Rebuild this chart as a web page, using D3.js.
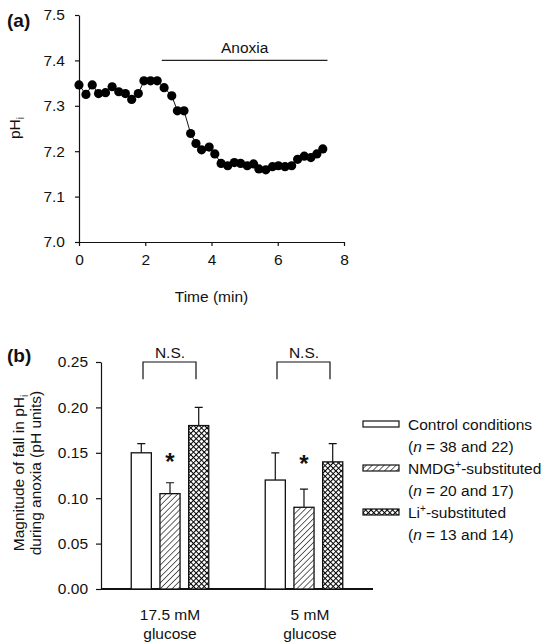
<!DOCTYPE html>
<html>
<head>
<meta charset="utf-8">
<script src="https://cdn.jsdelivr.net/npm/d3@7"></script>
<style>
  body { margin: 0; background: #fff; }
  svg { display: block; font-family: "Liberation Sans", Arial, Helvetica, sans-serif; }
  text { fill: #111; }
</style>
</head>
<body>
<div id="chart"></div>
<script>
// panel (a): pHi trace
const timeMin = [0, 0.21, 0.40, 0.59, 0.80, 1.00, 1.20, 1.40, 1.59, 1.79,
  1.96, 2.16, 2.36, 2.57, 2.80, 2.97, 3.17, 3.37, 3.53, 3.70,
  3.93, 4.10, 4.29, 4.49, 4.69, 4.88, 5.08, 5.27, 5.43, 5.64,
  5.84, 6.02, 6.22, 6.42, 6.60, 6.80, 7.00, 7.18, 7.36];
const phValues = [7.346, 7.325, 7.346, 7.327, 7.329, 7.342, 7.331, 7.327, 7.314, 7.327,
  7.355, 7.355, 7.355, 7.340, 7.322, 7.289, 7.289, 7.239, 7.217, 7.203,
  7.209, 7.194, 7.173, 7.168, 7.175, 7.173, 7.168, 7.172, 7.161, 7.159,
  7.166, 7.168, 7.166, 7.168, 7.182, 7.189, 7.186, 7.194, 7.205];
const anoxiaPeriod = [2.5, 7.5];
const anoxiaLevel = 7.4;
const phTicks = [7.0, 7.1, 7.2, 7.3, 7.4, 7.5];
const timeTicks = [0, 2, 4, 6, 8];

// panel (b): magnitude of fall
const groups = ["17.5 mM|glucose", "5 mM|glucose"];
const series = ["Control conditions", "NMDG+-substituted", "Li+-substituted"];
const seriesN = ["38 and 22", "20 and 17", "13 and 14"];
const fallMean = [[0.150, 0.105, 0.180], [0.120, 0.090, 0.140]];
const fallErr = [[0.010, 0.012, 0.020], [0.030, 0.020, 0.020]];
const asteriskLevel = [0.148, 0.145];
const fallTicks = [0.00, 0.05, 0.10, 0.15, 0.20, 0.25];

const svg = d3.select("#chart").append("svg")
  .attr("width", 547)
  .attr("height", 643);

const defs = svg.append("defs");
const hatch = defs.append("pattern")
  .attr("id", "hatch")
  .attr("width", 4.2).attr("height", 4.2)
  .attr("patternUnits", "userSpaceOnUse")
  .attr("patternTransform", "rotate(45)");
hatch.append("rect").attr("width", 4.2).attr("height", 4.2).attr("fill", "#fff");
hatch.append("line").attr("x1", 0).attr("y1", 0).attr("x2", 0).attr("y2", 4.2)
  .attr("stroke", "#111").attr("stroke-width", 1.3);

const cross = defs.append("pattern")
  .attr("id", "cross")
  .attr("width", 3.8).attr("height", 3.8)
  .attr("patternUnits", "userSpaceOnUse")
  .attr("patternTransform", "rotate(45)");
cross.append("rect").attr("width", 3.8).attr("height", 3.8).attr("fill", "#fff");
cross.append("line").attr("x1", 0).attr("y1", 0).attr("x2", 0).attr("y2", 3.8)
  .attr("stroke", "#000").attr("stroke-width", 2);
cross.append("line").attr("x1", 0).attr("y1", 0).attr("x2", 3.8).attr("y2", 0)
  .attr("stroke", "#000").attr("stroke-width", 2);

const fills = ["#fff", "url(#hatch)", "url(#cross)"];

function styleAxis(g, width) {
  g.selectAll(".domain").attr("stroke", "#111").attr("stroke-width", width);
  g.selectAll(".tick line").attr("stroke", "#111").attr("stroke-width", 1.2);
  g.selectAll(".tick text").attr("fill", "#111").style("font-size", "15.5px");
}

// ---------- panel (a) ----------
const xA = d3.scaleLinear().domain([0, 8]).range([79, 344]);
const yA = d3.scaleLinear().domain([7.0, 7.5]).range([242, 15]);

const gA = svg.append("g");

gA.append("g")
  .attr("transform", `translate(0,${yA(7.0)})`)
  .call(d3.axisBottom(xA).tickValues(timeTicks).tickSize(4).tickSizeOuter(0).tickPadding(8).tickFormat(d3.format("d")))
  .call(g => styleAxis(g, 1.2));

gA.append("g")
  .attr("transform", `translate(${xA(0)},0)`)
  .call(d3.axisLeft(yA).tickValues(phTicks).tickSize(4).tickSizeOuter(0).tickPadding(10).tickFormat(d3.format(".1f")))
  .call(g => styleAxis(g, 1.2));

const pts = timeMin.map((t, i) => ({ t: t, ph: phValues[i] }));

gA.append("path")
  .datum(pts)
  .attr("fill", "none")
  .attr("stroke", "#111")
  .attr("stroke-width", 1)
  .attr("d", d3.line().x(d => xA(d.t)).y(d => yA(d.ph)));

gA.selectAll("circle")
  .data(pts)
  .enter().append("circle")
  .attr("cx", d => xA(d.t))
  .attr("cy", d => yA(d.ph))
  .attr("r", 4.6)
  .attr("fill", "#000");

gA.append("line")
  .attr("x1", xA(anoxiaPeriod[0])).attr("x2", xA(anoxiaPeriod[1]))
  .attr("y1", yA(anoxiaLevel)).attr("y2", yA(anoxiaLevel))
  .attr("stroke", "#222").attr("stroke-width", 1.2);

gA.append("text")
  .attr("x", xA((anoxiaPeriod[0] + anoxiaPeriod[1]) / 2))
  .attr("y", yA(anoxiaLevel) - 7)
  .attr("text-anchor", "middle")
  .style("font-size", "15.5px")
  .text("Anoxia");

gA.append("text")
  .attr("x", xA(4))
  .attr("y", 302)
  .attr("text-anchor", "middle")
  .style("font-size", "15.5px")
  .text("Time (min)");

const yLabA = gA.append("text")
  .attr("transform", "translate(20,128) rotate(-90)")
  .attr("text-anchor", "middle")
  .style("font-size", "15.5px");
yLabA.append("tspan").text("pH");
yLabA.append("tspan").attr("dy", 4).style("font-size", "10px").text("i");

gA.append("text")
  .attr("x", 7).attr("y", 27)
  .style("font-size", "19px").style("font-weight", "bold")
  .text("(a)");

// ---------- panel (b) ----------
const yB = d3.scaleLinear().domain([0, 0.25]).range([589, 362]);
const x0 = d3.scaleBand().domain(groups).range([101, 373]).paddingInner(0.37).paddingOuter(0.2);
const x1 = d3.scaleBand().domain(series).range([0, x0.bandwidth()]).paddingInner(0.3).paddingOuter(0.12);

const gB = svg.append("g");

gB.append("g")
  .attr("transform", `translate(${x0.range()[0]},0)`)
  .call(d3.axisLeft(yB).tickValues(fallTicks).tickSize(5).tickSizeOuter(0).tickPadding(8).tickFormat(d3.format(".2f")))
  .call(g => styleAxis(g, 1.2));

gB.append("line")
  .attr("x1", x0.range()[0]).attr("x2", x0.range()[1])
  .attr("y1", yB(0)).attr("y2", yB(0))
  .attr("stroke", "#111").attr("stroke-width", 1.8);

const barData = [];
groups.forEach((g, gi) => {
  series.forEach((s, si) => {
    barData.push({ group: g, gi: gi, series: s, si: si, v: fallMean[gi][si], e: fallErr[gi][si] });
  });
});

const barX = d => x0(d.group) + x1(d.series);

// error bars (upper only)
gB.selectAll(".err")
  .data(barData)
  .enter().append("path")
  .attr("class", "err")
  .attr("fill", "none")
  .attr("stroke", "#111")
  .attr("stroke-width", 1.2)
  .attr("d", d => {
    const cx = barX(d) + x1.bandwidth() / 2;
    return `M${cx},${yB(d.v)}V${yB(d.v + d.e)}M${cx - 4},${yB(d.v + d.e)}H${cx + 4}`;
  });

gB.selectAll(".bar")
  .data(barData)
  .enter().append("rect")
  .attr("class", "bar")
  .attr("x", barX)
  .attr("y", d => yB(d.v))
  .attr("width", x1.bandwidth())
  .attr("height", d => yB(0) - yB(d.v))
  .attr("fill", d => fills[d.si])
  .attr("stroke", "#111")
  .attr("stroke-width", 1.3);

// significance marks
groups.forEach((g, gi) => {
  const cx = x0(g) + x0.bandwidth() / 2;
  gB.append("path")
    .attr("fill", "none")
    .attr("stroke", "#111")
    .attr("stroke-width", 1.2)
    .attr("d", `M${cx - 27},${yB(0.231)}V${yB(0.25)}H${cx + 26}V${yB(0.231)}`);
  gB.append("text")
    .attr("x", cx).attr("y", yB(0.25) - 4)
    .attr("text-anchor", "middle")
    .style("font-size", "15.5px")
    .text("N.S.");
  gB.append("text")
    .attr("x", x0(g) + x1(series[1]) + x1.bandwidth() / 2)
    .attr("y", yB(asteriskLevel[gi]) + 15)
    .attr("text-anchor", "middle")
    .style("font-size", "24px")
    .style("font-weight", "bold")
    .text("*");
  const parts = g.split("|");
  parts.forEach((p, pi) => {
    gB.append("text")
      .attr("x", cx + gi * 6).attr("y", 620 + pi * 19)
      .attr("text-anchor", "middle")
      .style("font-size", "15.5px")
      .text(p);
  });
});

const yLabB = gB.append("text")
  .attr("transform", "translate(0,473) rotate(-90)")
  .attr("text-anchor", "middle")
  .style("font-size", "15.5px");
yLabB.append("tspan").attr("x", 0).attr("y", 24).text("Magnitude of fall in pH");
yLabB.append("tspan").attr("dy", 4).style("font-size", "10px").text("i");
yLabB.append("tspan").attr("x", 0).attr("y", 41).text("during anoxia (pH units)");

gB.append("text")
  .attr("x", 7).attr("y", 362)
  .style("font-size", "19px").style("font-weight", "bold")
  .text("(b)");

// legend
const legend = gB.append("g").attr("transform", "translate(363,424)");
series.forEach((s, si) => {
  const row = legend.append("g").attr("transform", `translate(0,${si * 44})`);
  row.append("rect")
    .attr("x", 0).attr("y", -3)
    .attr("width", 36).attr("height", 6)
    .attr("fill", fills[si])
    .attr("stroke", "#111").attr("stroke-width", 1.2);
  const name = s.split("+");
  const t1 = row.append("text").attr("x", 45).attr("y", 5.5).style("font-size", "15.5px");
  if (name.length > 1) {
    t1.append("tspan").text(name[0]);
    t1.append("tspan").attr("dy", -6).style("font-size", "10px").text("+");
    t1.append("tspan").attr("dy", 6).text(name[1]);
  } else {
    t1.text(s);
  }
  const t2 = row.append("text").attr("x", 45).attr("y", 27.5).style("font-size", "15.5px");
  t2.append("tspan").text("(");
  t2.append("tspan").style("font-style", "italic").text("n");
  t2.append("tspan").text(" = " + seriesN[si] + ")");
});
</script>
</body>
</html>
